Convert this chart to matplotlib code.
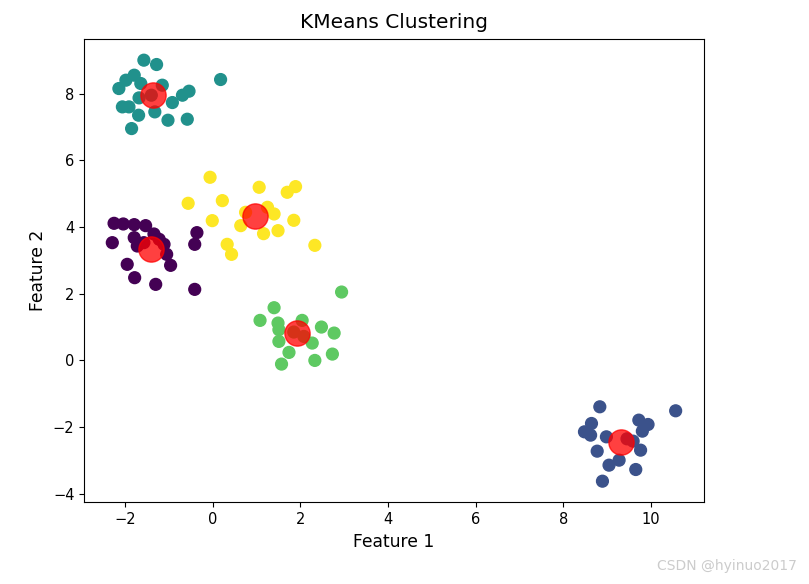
"""KMeans clustering scatter with centroids."""
import matplotlib
matplotlib.use("Agg")
import matplotlib.pyplot as plt
import numpy as np

# cluster 0 (purple)
c0_x = [-2.25, -2.04, -1.79, -1.53, -1.34, -1.79, -2.29, -1.72, -1.11, -0.36,
        -0.41, -1.05, -0.96, -1.95, -1.78, -1.30, -0.41, -1.57, -1.22]
c0_y = [4.11, 4.09, 4.07, 4.04, 3.79, 3.68, 3.53, 3.43, 3.48, 3.83,
        3.48, 3.18, 2.85, 2.88, 2.48, 2.28, 2.13, 3.53, 3.63]
# cluster 1 (blue)
c1_x = [8.83, 10.56, 9.72, 9.93, 8.64, 8.48, 8.62, 9.80, 8.98, 9.59,
        9.76, 8.77, 9.27, 9.04, 9.65, 8.89, 9.45]
c1_y = [-1.39, -1.51, -1.79, -1.92, -1.89, -2.14, -2.24, -2.12, -2.29, -2.42,
        -2.69, -2.72, -2.99, -3.14, -3.27, -3.62, -2.35]
# cluster 2 (teal)
c2_x = [-1.57, -1.28, 0.18, -1.79, -1.98, -2.14, -1.64, -1.15, -0.54, -0.69,
        -0.92, -1.68, -2.06, -1.91, -1.69, -1.32, -1.02, -0.58, -1.85, -1.40]
c2_y = [9.00, 8.87, 8.42, 8.55, 8.40, 8.15, 8.30, 8.25, 8.07, 7.95,
        7.73, 7.87, 7.60, 7.60, 7.35, 7.45, 7.20, 7.23, 6.95, 7.95]
# cluster 3 (green)
c3_x = [2.94, 1.40, 1.08, 1.49, 1.51, 2.04, 2.48, 2.77, 1.51, 2.27,
        1.74, 2.73, 2.33, 1.57, 2.08, 1.85]
c3_y = [2.05, 1.58, 1.20, 1.12, 0.92, 1.20, 1.00, 0.82, 0.57, 0.52,
        0.24, 0.19, 0.00, -0.11, 0.72, 0.85]
# cluster 4 (yellow)
c4_x = [-0.06, 1.06, 1.89, 1.70, -0.56, 0.22, 1.40, 1.25, -0.01, 1.85,
        0.64, 1.16, 1.49, 0.33, 0.43, 2.33, 0.75]
c4_y = [5.49, 5.19, 5.21, 5.04, 4.71, 4.79, 4.39, 4.59, 4.19, 4.20,
        4.04, 3.80, 3.89, 3.48, 3.18, 3.45, 4.44]

centers_x = [-1.40, 9.32, -1.37, 1.93, 0.97]
centers_y = [3.33, -2.46, 7.95, 0.82, 4.32]

clusters = [(c0_x, c0_y), (c1_x, c1_y), (c2_x, c2_y), (c3_x, c3_y), (c4_x, c4_y)]
xs = np.concatenate([np.array(cx) for cx, _ in clusters])
ys = np.concatenate([np.array(cy) for _, cy in clusters])
labels = np.concatenate([np.full(len(cx), i) for i, (cx, _) in enumerate(clusters)])

fig = plt.figure(figsize=(8.09, 5.84), dpi=100)
ax = fig.add_axes([0.104, 0.140, 0.766, 0.793])

ax.scatter(xs, ys, c=labels, s=72, cmap="viridis")
ax.scatter(centers_x, centers_y, c="red", s=330, alpha=0.75)

ax.set_title("KMeans Clustering", fontsize=14.5, pad=8)
ax.set_xlabel("Feature 1", fontsize=12.3)
ax.set_ylabel("Feature 2", fontsize=12.3)
ax.tick_params(labelsize=10.5)

fig.text(0.985, 0.018, "CSDN @hyinuo2017", ha="right", va="bottom",
         fontsize=10, color="#cccccc")

plt.savefig("out.png", dpi=100)
plt.close()
